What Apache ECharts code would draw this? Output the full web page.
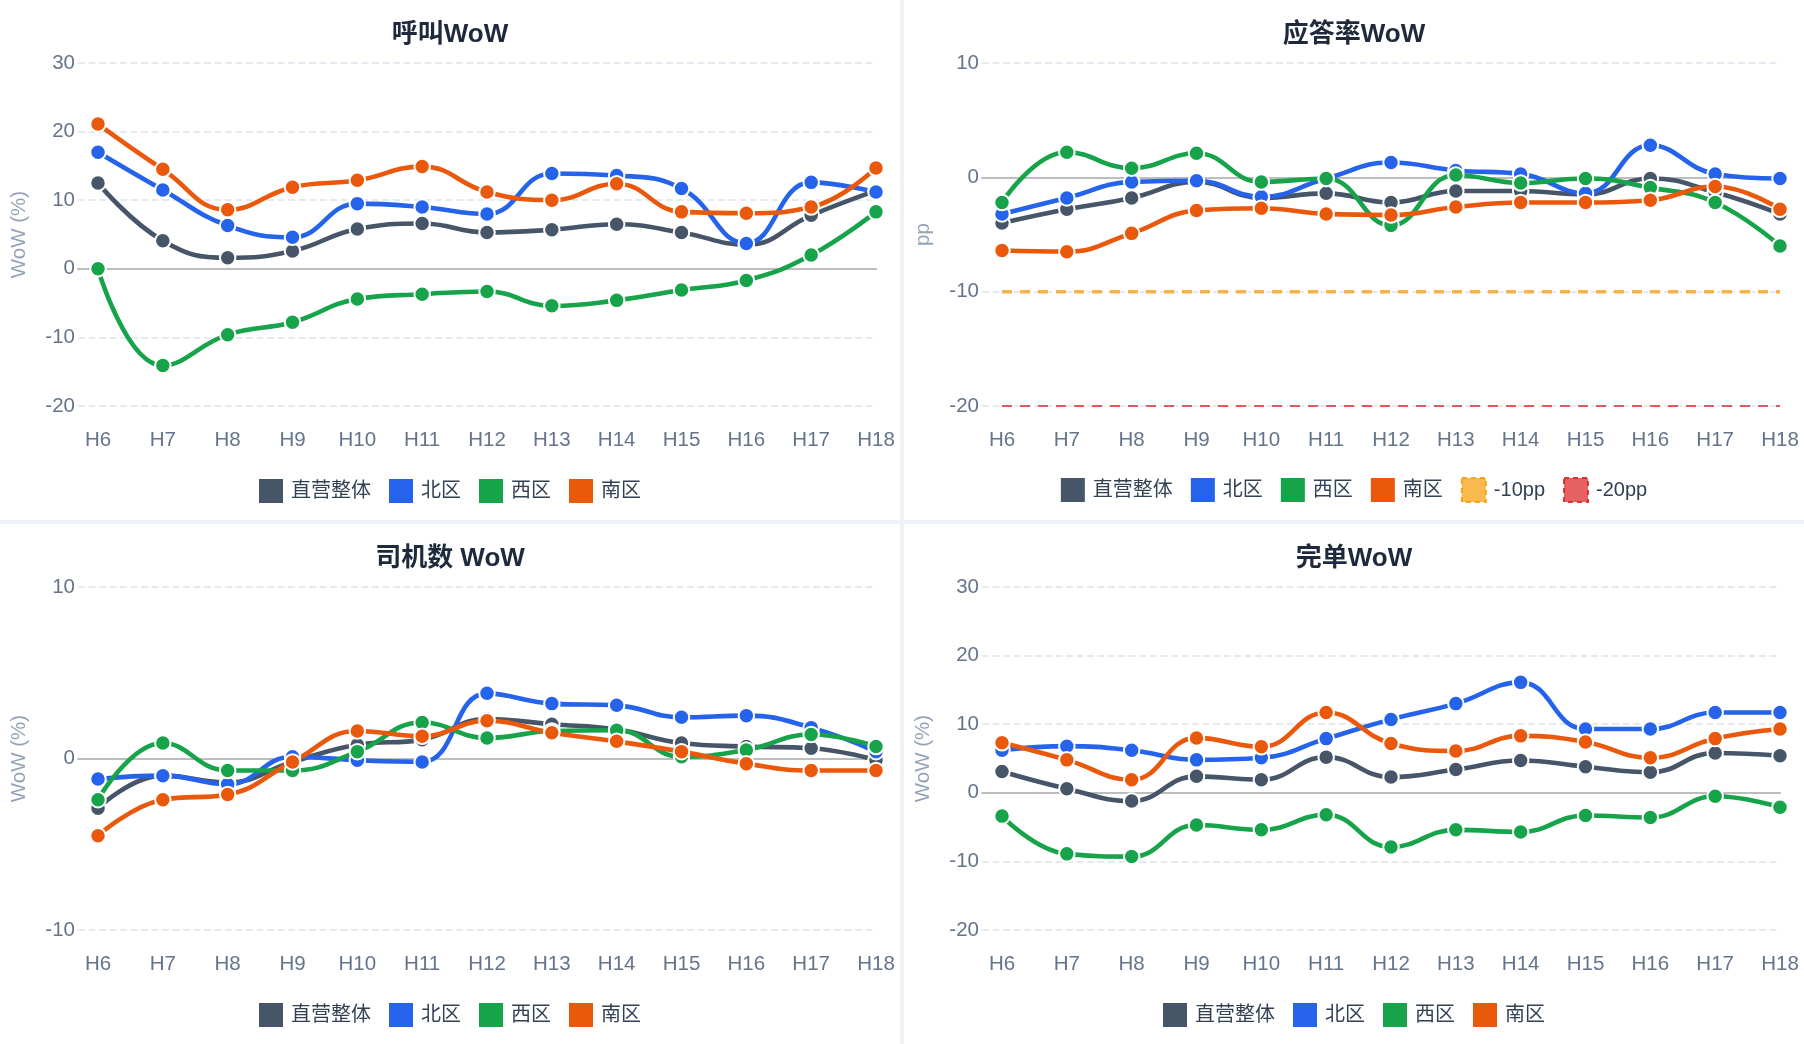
<!DOCTYPE html>
<html>
<head>
<meta charset="utf-8">
<title>WoW</title>
<script src="https://cdn.jsdelivr.net/npm/echarts@6/dist/echarts.min.js"></script>
<style>
    html, body { margin: 0; padding: 0; background: #eef2f7; }
    #wrap {
        width: 1804px;
        height: 1044px;
        display: grid;
        grid-template-columns: 900px 900px;
        grid-template-rows: 520px 520px;
        gap: 4px;
    }
    .box { background: #fff; width: 900px; height: 520px; }
</style>
</head>
<body>
<div id="wrap">
    <div class="box" id="callChart"></div>
    <div class="box" id="answerChart"></div>
    <div class="box" id="driverChart"></div>
    <div class="box" id="finishChart"></div>
</div>
<script>
var hours = ['H6', 'H7', 'H8', 'H9', 'H10', 'H11', 'H12', 'H13', 'H14', 'H15', 'H16', 'H17', 'H18'];
var regionNames = ['直营整体', '北区', '西区', '南区'];
var regionColors = ['#475569', '#2563eb', '#16a34a', '#ea580c'];

// 呼叫WoW
var callTotal = [12.5, 4.1, 1.6, 2.6, 5.8, 6.6, 5.3, 5.7, 6.5, 5.3, 3.5, 7.8, 11.4];
var callNorth = [17.0, 11.5, 6.3, 4.6, 9.5, 9.0, 8.0, 13.9, 13.6, 11.7, 3.7, 12.6, 11.2];
var callWest = [0, -14.1, -9.6, -7.8, -4.4, -3.7, -3.3, -5.4, -4.6, -3.1, -1.7, 2.0, 8.3];
var callSouth = [21.1, 14.5, 8.6, 11.9, 12.9, 14.9, 11.2, 10.0, 12.4, 8.3, 8.1, 9.0, 14.7];

// 应答率WoW (pp)
var answerTotal = [-4.0, -2.8, -1.8, -0.4, -1.8, -1.4, -2.2, -1.2, -1.2, -1.5, -0.1, -1.3, -3.2];
var answerNorth = [-3.2, -1.8, -0.4, -0.3, -1.7, -0.1, 1.3, 0.6, 0.3, -1.4, 2.8, 0.3, -0.1];
var answerWest = [-2.2, 2.2, 0.8, 2.1, -0.4, -0.1, -4.2, 0.2, -0.5, -0.1, -0.9, -2.2, -6.0];
var answerSouth = [-6.4, -6.5, -4.9, -2.9, -2.7, -3.2, -3.3, -2.6, -2.2, -2.2, -2.0, -0.8, -2.8];
var warn10 = [-10, -10, -10, -10, -10, -10, -10, -10, -10, -10, -10, -10, -10];
var warn20 = [-20, -20, -20, -20, -20, -20, -20, -20, -20, -20, -20, -20, -20];

// 司机数 WoW
var driverTotal = [-2.9, -1.0, -1.4, -0.2, 0.8, 1.1, 2.3, 2.0, 1.7, 0.9, 0.7, 0.6, -0.1];
var driverNorth = [-1.2, -1.0, -1.5, 0.1, -0.1, -0.2, 3.8, 3.2, 3.1, 2.4, 2.5, 1.8, 0.4];
var driverWest = [-2.4, 0.9, -0.7, -0.7, 0.4, 2.1, 1.2, 1.6, 1.65, 0.1, 0.5, 1.4, 0.7];
var driverSouth = [-4.5, -2.4, -2.1, -0.2, 1.6, 1.3, 2.2, 1.5, 1.0, 0.4, -0.3, -0.7, -0.7];

// 完单WoW
var finishTotal = [3.1, 0.6, -1.2, 2.4, 1.9, 5.2, 2.3, 3.4, 4.7, 3.8, 3.0, 5.8, 5.4];
var finishNorth = [6.2, 6.8, 6.2, 4.8, 5.1, 7.9, 10.7, 13.0, 16.1, 9.3, 9.3, 11.7, 11.7];
var finishWest = [-3.4, -8.9, -9.3, -4.7, -5.4, -3.2, -7.9, -5.4, -5.7, -3.3, -3.6, -0.5, -2.1];
var finishSouth = [7.3, 4.8, 1.9, 8.0, 6.7, 11.7, 7.2, 6.1, 8.3, 7.4, 5.1, 7.9, 9.3];

var fontFam = '"Liberation Sans", "Noto Sans CJK SC", sans-serif';

function regionSeries(values) {
    var list = [];
    for (var i = 0; i < values.length; i++) {
        list.push({
            name: regionNames[i],
            type: 'line',
            xAxisIndex: 1,
            yAxisIndex: 1,
            data: values[i],
            smooth: 0.45,
            symbol: 'circle',
            symbolSize: 15.5,
            lineStyle: { width: 4.6, color: regionColors[i] },
            itemStyle: { color: regionColors[i], borderColor: '#fff', borderWidth: 2 },
            z: 3
        });
    }
    return list;
}

function refLine(name, data, color, width) {
    return {
        name: name,
        type: 'line',
        xAxisIndex: 1,
        yAxisIndex: 1,
        data: data,
        showSymbol: false,
        symbol: 'none',
        silent: true,
        lineStyle: { width: width, color: color, type: [10, 8] },
        itemStyle: { color: color },
        z: 2
    };
}

function makeOption(title, yName, min, max, series, extraLegend) {
    var legendData = [];
    for (var i = 0; i < regionNames.length; i++) {
        legendData.push({ name: regionNames[i], itemStyle: { borderWidth: 0 } });
    }
    if (extraLegend) {
        legendData = legendData.concat(extraLegend);
    }
    return {
        animation: false,
        textStyle: { fontFamily: fontFam },
        title: {
            text: title,
            left: 'center',
            top: 17,
            textStyle: { fontSize: 26, fontWeight: 'bold', color: '#1e293b', fontFamily: fontFam }
        },
        legend: {
            bottom: 12,
            left: 'center',
            icon: 'rect',
            itemWidth: 24,
            itemHeight: 24,
            itemGap: 18,
            data: legendData,
            textStyle: { fontSize: 20, color: '#334155', padding: [0, 0, 0, 3] }
        },
        grid: [
            { left: 78, right: 24, top: 63, bottom: 114 },
            { left: 98, right: 24, top: 63, bottom: 114 }
        ],
        xAxis: [
            {
                // 只用来画0线
                type: 'value', gridIndex: 0, min: 0, max: 1,
                axisLine: { show: true, onZero: true, lineStyle: { color: '#bdbdbd', width: 2 } },
                axisTick: { show: false },
                axisLabel: { show: false },
                splitLine: { show: false }
            },
            {
                type: 'category', gridIndex: 1, data: hours, boundaryGap: false,
                axisLine: { show: false, onZero: false },
                axisTick: { show: false },
                axisLabel: { color: '#64748b', fontSize: 20.5, margin: 24 },
                splitLine: { show: false }
            }
        ],
        yAxis: [
            {
                type: 'value', gridIndex: 0, min: min, max: max, interval: 10,
                name: yName,
                nameLocation: 'middle',
                nameGap: 48,
                nameTextStyle: { color: '#94a3b8', fontSize: 20.5 },
                axisLine: { show: false },
                axisTick: { show: false },
                axisLabel: { color: '#64748b', fontSize: 20.5, margin: 3 },
                splitLine: { lineStyle: { color: '#e5e9f0', width: 2, type: [7, 3.5] } }
            },
            {
                type: 'value', gridIndex: 1, min: min, max: max, interval: 10, show: false
            }
        ],
        series: series
    };
}

var callChart = echarts.init(document.getElementById('callChart'));
callChart.setOption(makeOption('呼叫WoW', 'WoW (%)', -20, 30,
    regionSeries([callTotal, callNorth, callWest, callSouth])));

var answerChart = echarts.init(document.getElementById('answerChart'));
var answerSeries = [
    refLine('-10pp', warn10, 'rgba(245,158,11,0.75)', 3.5),
    refLine('-20pp', warn20, 'rgba(220,38,38,0.75)', 2.2)
].concat(regionSeries([answerTotal, answerNorth, answerWest, answerSouth]));
answerChart.setOption(makeOption('应答率WoW', 'pp', -20, 10, answerSeries, [
    { name: '-10pp', itemStyle: { color: 'rgba(245,158,11,0.72)', borderColor: 'rgba(245,158,11,0.9)', borderWidth: 2, borderType: [5, 4] } },
    { name: '-20pp', itemStyle: { color: 'rgba(220,38,38,0.72)', borderColor: 'rgba(220,38,38,0.9)', borderWidth: 2, borderType: [5, 4] } }
]));

var driverChart = echarts.init(document.getElementById('driverChart'));
driverChart.setOption(makeOption('司机数 WoW', 'WoW (%)', -10, 10,
    regionSeries([driverTotal, driverNorth, driverWest, driverSouth])));

var finishChart = echarts.init(document.getElementById('finishChart'));
finishChart.setOption(makeOption('完单WoW', 'WoW (%)', -20, 30,
    regionSeries([finishTotal, finishNorth, finishWest, finishSouth])));
</script>
</body>
</html>
